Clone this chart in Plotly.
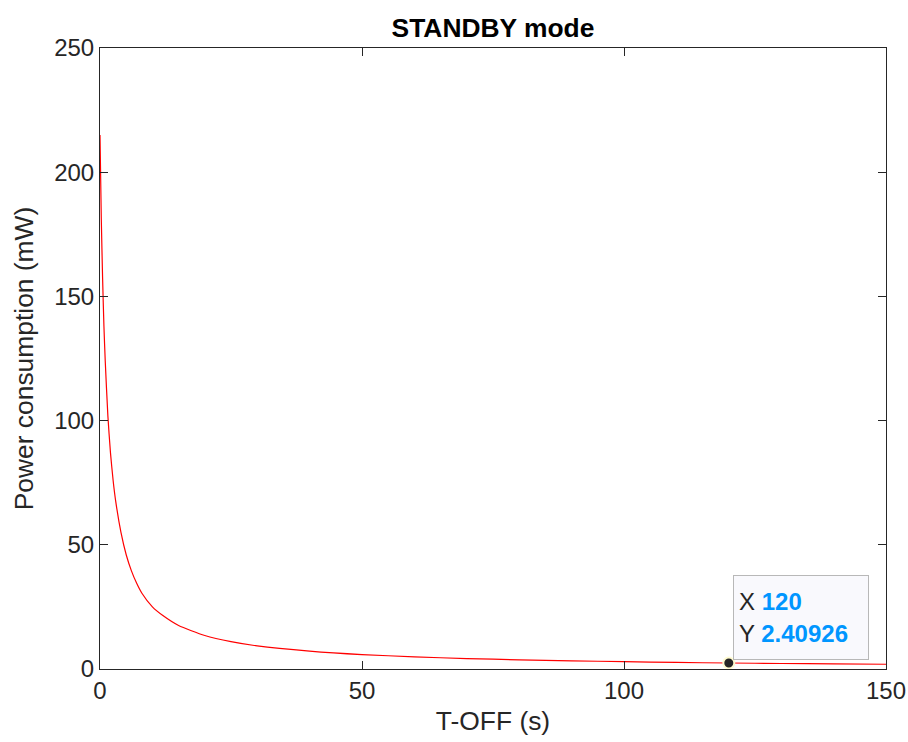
import plotly.graph_objects as go

# Data
t_off = [0, 0.25, 0.5, 0.75, 1, 1.5, 2, 2.5, 3, 4, 5, 6, 7, 8, 10, 12, 15, 20, 25, 30,
         40, 50, 60, 70, 80, 90, 100, 110, 120, 130, 140, 150]
power_mw = [215, 181, 157, 138, 124, 102, 87, 76, 67.5, 55, 46, 39.5, 34.5, 30.5, 25, 21.5,
            17.5, 13.5, 11, 9.3, 7.2, 5.8, 4.9, 4.2, 3.7, 3.3, 2.95, 2.65, 2.40926, 2.22, 2.06, 1.92]
tip_x = [120]
tip_y = [2.40926]
x_ticks = [0, 50, 100, 150]
y_ticks = [0, 50, 100, 150, 200, 250]

AX = "#262626"
FONT = "Liberation Sans, Arial, Helvetica, sans-serif"

fig = go.Figure()
fig.add_trace(go.Scatter(x=t_off, y=power_mw, mode="lines",
                         line=dict(color="#ff0000", width=1.2, shape="spline", smoothing=0.6),
                         showlegend=False, hoverinfo="x+y"))
fig.add_trace(go.Scatter(x=tip_x, y=tip_y, mode="markers",
                         marker=dict(color="#262626", size=11, line=dict(color="#fffbd0", width=2)),
                         showlegend=False, cliponaxis=False))

fig.add_annotation(x=tip_x[0], y=tip_y[0], xref="x", yref="y",
                   text="X <span style='color:#0096ff'><b>%d</b></span><br>Y <span style='color:#0096ff'><b>%s</b></span>" % (tip_x[0], "2.40926"),
                   showarrow=True, arrowcolor="rgba(0,0,0,0)", ax=72, ay=-46, xanchor="center", yanchor="middle",
                   align="left", width=124, height=73, font=dict(family=FONT, size=24, color=AX),
                   bgcolor="#f9f9fd", bordercolor="#b8b8b8", borderwidth=1, borderpad=5)

fig.update_layout(
    width=908, height=742,
    paper_bgcolor="white", plot_bgcolor="white",
    margin=dict(l=100, r=22, t=48, b=73),
    font=dict(family=FONT, size=24, color=AX),
    title=dict(text="<b>STANDBY mode</b>", x=0.5, xanchor="center", y=1 - 28 / 742, yanchor="middle",
               xref="paper", font=dict(family=FONT, size=26.4, color="black")),
    xaxis=dict(range=[0, 150], tickvals=x_ticks, ticks="inside", ticklen=8, tickcolor=AX, tickwidth=1,
               showline=True, linecolor=AX, linewidth=1, mirror="allticks", showgrid=False, zeroline=False,
               automargin=False,
               title=dict(text="T-OFF (s)", font=dict(size=26.4), standoff=8), tickfont=dict(size=24)),
    yaxis=dict(range=[0, 250], tickvals=y_ticks, ticks="inside", ticklen=8, tickcolor=AX, tickwidth=1,
               showline=True, linecolor=AX, linewidth=1, mirror="allticks", showgrid=False, zeroline=False,
               automargin=False,
               title=dict(text="Power consumption (mW)", font=dict(size=26.4), standoff=12), tickfont=dict(size=24)),
)

fig.write_html("out.html", config={"displayModeBar": False},
               post_script="document.body.style.margin='0';document.body.style.overflow='hidden';")
